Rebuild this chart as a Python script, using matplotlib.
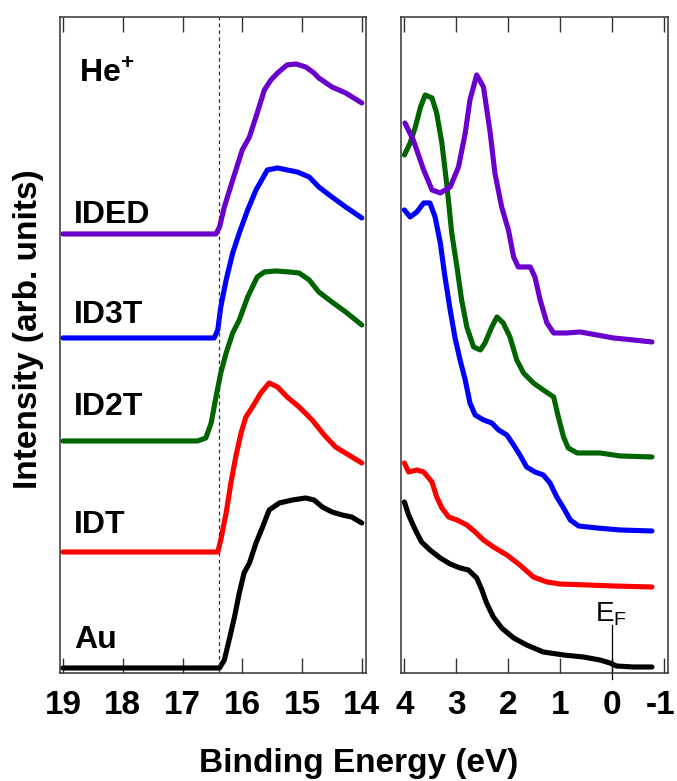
import matplotlib
matplotlib.use("Agg")
import matplotlib.pyplot as plt
from matplotlib.transforms import ScaledTranslation

# --- secondary-electron cutoff region (left panel), energies in eV ---
cut_ided_e = [19.0, 16.44, 16.38, 16.30, 16.16, 16.00, 15.88, 15.75, 15.63, 15.52, 15.41,
              15.25, 15.10, 14.94, 14.80, 14.72, 14.50, 14.27, 14.0]
cut_ided_i = [439, 439, 446, 466, 493, 523, 536, 560, 583, 593, 600,
              608, 609, 606, 600, 595, 586, 580, 570]

cut_id3t_e = [19.0, 16.47, 16.41, 16.36, 16.27, 16.16, 16.05, 15.91, 15.77, 15.58, 15.41,
              15.25, 15.08, 14.88, 14.72, 14.50, 14.27, 14.0]
cut_id3t_i = [335, 335, 343, 366, 393, 420, 440, 463, 483, 503, 505,
              503, 501, 496, 486, 476, 466, 455]

cut_id2t_e = [19.0, 16.75, 16.61, 16.52, 16.44, 16.36, 16.27, 16.16, 16.05, 15.91, 15.75,
              15.63, 15.44, 15.22, 15.05, 14.88, 14.72, 14.50, 14.27, 14.0]
cut_id2t_i = [232, 232, 235, 250, 276, 300, 320, 340, 353, 376, 396,
              401, 402, 401, 400, 393, 381, 371, 361, 348]

cut_idt_e = [19.0, 16.41, 16.36, 16.27, 16.19, 16.11, 16.02, 15.94, 15.83, 15.69, 15.55,
             15.41, 15.25, 15.05, 14.83, 14.63, 14.44, 14.22, 14.0]
cut_idt_i = [121, 121, 133, 160, 190, 216, 240, 256, 266, 280, 290,
             286, 276, 266, 253, 238, 226, 218, 210]

cut_au_e = [19.0, 16.38, 16.30, 16.22, 16.13, 16.05, 15.97, 15.88, 15.77, 15.66, 15.55,
            15.38, 15.16, 14.94, 14.80, 14.66, 14.50, 14.33, 14.17, 14.0]
cut_au_i = [5, 5, 13, 33, 56, 80, 100, 110, 130, 146, 163,
            170, 173, 175, 173, 166, 161, 158, 156, 150]

# --- valence band region (right panel) ---
vb_ided_e = [3.99, 3.83, 3.63, 3.47, 3.31, 3.12, 2.96, 2.83, 2.74, 2.61, 2.48, 2.35, 2.26,
             2.13, 2.0, 1.90, 1.81, 1.58, 1.49, 1.39, 1.26, 1.13, 0.88, 0.62, 0.30,
             -0.02, -0.40, -0.76]
vb_ided_i = [550, 533, 503, 483, 480, 486, 506, 540, 573, 598, 586, 540, 500,
             466, 443, 416, 406, 406, 396, 373, 350, 340, 340, 341, 338,
             335, 333, 331]

vb_id2t_e = [4.0, 3.89, 3.79, 3.69, 3.60, 3.47, 3.38, 3.28, 3.18, 3.09, 2.99, 2.90, 2.80,
             2.67, 2.54, 2.45, 2.32, 2.22, 2.10, 1.97, 1.84, 1.71, 1.52, 1.33, 1.13,
             1.04, 0.94, 0.85, 0.68, 0.24, -0.15, -0.76]
vb_id2t_i = [518, 530, 546, 566, 578, 575, 560, 530, 486, 440, 406, 373, 346,
             326, 323, 330, 346, 356, 350, 336, 313, 300, 290, 283, 276,
             256, 236, 225, 220, 220, 217, 216]

vb_id3t_e = [4.0, 3.89, 3.76, 3.63, 3.51, 3.41, 3.31, 3.22, 3.12, 3.03, 2.93, 2.83, 2.74,
             2.64, 2.48, 2.32, 2.19, 2.03, 1.90, 1.78, 1.65, 1.49, 1.33, 1.20, 1.07,
             0.94, 0.81, 0.65, 0.30, -0.15, -0.76]
vb_id3t_i = [463, 456, 461, 470, 470, 456, 430, 396, 363, 336, 313, 293, 270,
             258, 253, 250, 243, 238, 228, 218, 206, 201, 198, 190, 176,
             165, 153, 147, 145, 143, 142]

vb_idt_e = [4.0, 3.92, 3.76, 3.63, 3.47, 3.38, 3.28, 3.15, 2.99, 2.80, 2.64, 2.48, 2.29,
            2.03, 1.78, 1.52, 1.26, 1.01, 0.49, -0.02, -0.76]
vb_idt_i = [210, 201, 203, 201, 191, 176, 165, 156, 153, 148, 141, 133, 126,
            118, 108, 96, 91, 89, 88, 87, 86]

vb_au_e = [4.0, 3.92, 3.79, 3.67, 3.51, 3.31, 3.12, 2.93, 2.77, 2.61, 2.51, 2.42, 2.29,
           2.13, 1.90, 1.65, 1.33, 0.94, 0.56, 0.24, 0.05, -0.08, -0.40, -0.76]
vb_au_i = [171, 158, 143, 131, 123, 115, 109, 105, 103, 95, 83, 70, 56,
           45, 35, 28, 21, 18, 16, 13, 10, 7, 6, 6]

sample_names = ["Au", "IDT", "ID2T", "ID3T", "IDED"]
sample_colors = ["black", "#ff0000", "#006400", "#0000ff", "#6a00cc"]
label_y = [25, 140, 258, 350, 450]

cutoff_pos = 16.39
left_ticks = [19, 18, 17, 16, 15, 14]
right_ticks = [4, 3, 2, 1, 0, -1]

plt.rcParams['font.family'] = ['Liberation Sans', 'DejaVu Sans']
plt.rcParams['font.weight'] = 'bold'
plt.rcParams['axes.unicode_minus'] = False
plt.rcParams['mathtext.fontset'] = 'custom'
plt.rcParams['mathtext.rm'] = 'Liberation Sans'
plt.rcParams['mathtext.bf'] = 'Liberation Sans:bold'


def style_axis(ax, ticks, xlim):
    ax.set_xlim(*xlim)
    ax.set_ylim(0, 656)
    ax.set_xticks(ticks)
    ax.set_xticklabels([str(t) for t in ticks])
    ax.set_yticks([])
    ax.tick_params(axis='x', direction='in', length=11, width=1.0,
                   top=True, bottom=True, labelsize=24, pad=12, color='#333333')
    for sp in ax.spines.values():
        sp.set_linewidth(1.1)
        sp.set_color('#333333')


def main():
    fig = plt.figure(figsize=(6.77, 7.81), dpi=100)
    ax_l = fig.add_axes([0.0886, 0.1383, 0.452, 0.840])
    ax_r = fig.add_axes([0.592, 0.1383, 0.394, 0.840])

    cut_e = [cut_au_e, cut_idt_e, cut_id2t_e, cut_id3t_e, cut_ided_e]
    cut_i = [cut_au_i, cut_idt_i, cut_id2t_i, cut_id3t_i, cut_ided_i]
    vb_e = [vb_au_e, vb_idt_e, vb_id2t_e, vb_id3t_e, vb_ided_e]
    vb_i = [vb_au_i, vb_idt_i, vb_id2t_i, vb_id3t_i, vb_ided_i]

    for k in range(len(sample_names)):
        ax_l.plot(cut_e[k], cut_i[k], color=sample_colors[k], lw=3.7, solid_capstyle='round')
        ax_r.plot(vb_e[k], vb_i[k], color=sample_colors[k], lw=3.7, solid_capstyle='round')
        ax_l.text(18.82, label_y[k], sample_names[k], fontsize=23, fontweight='bold',
                  ha='left', va='baseline')

    ax_l.text(18.73, 590, r'He$^{\mathbf{+}}$', fontsize=23, fontweight='bold',
              ha='left', va='baseline')

    # secondary electron cutoff marker
    ax_l.axvline(cutoff_pos, color='#333333', lw=0.9, ls=(0, (3, 2.5)))

    # Fermi level marker
    ax_r.plot([0, 0], [48, -6], color='black', lw=0.9, clip_on=False)
    ax_r.text(0.33, 52, r'E$_\mathregular{F}$', fontsize=20, fontweight='normal',
              ha='left', va='baseline')

    style_axis(ax_l, left_ticks, (19.05, 13.93))
    style_axis(ax_r, right_ticks, (4.07, -1.06))

    # keep the "-1" label inside the canvas
    last = ax_r.get_xticklabels()[-1]
    last.set_transform(last.get_transform() + ScaledTranslation(-4 / 100, 0, fig.dpi_scale_trans))

    fig.text(0.529, 0.011, "Binding Energy (eV)", fontsize=24, fontweight='bold',
             ha='center', va='baseline')
    fig.text(0.042, 0.578, "Intensity (arb. units)", fontsize=24, fontweight='bold',
             ha='center', va='center', rotation=90)

    fig.savefig("out.png", dpi=100)
    plt.close(fig)


if __name__ == "__main__":
    main()
